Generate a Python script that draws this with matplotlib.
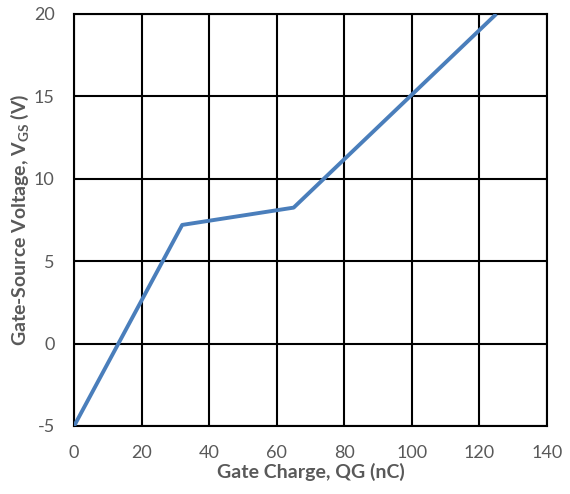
import matplotlib
matplotlib.use("Agg")
import matplotlib.pyplot as plt

# Gate charge curve
carga_qg = [0, 32, 65, 125]
tensao_vgs = [-5, 7.2, 8.25, 20]

x_ticks = [0, 20, 40, 60, 80, 100, 120, 140]
y_ticks = [-5, 0, 5, 10, 15, 20]

plt.rcParams['font.family'] = ['Lato', 'DejaVu Sans']
plt.rcParams['mathtext.fontset'] = 'custom'
plt.rcParams['mathtext.rm'] = 'Lato:bold'
plt.rcParams['mathtext.bf'] = 'Lato:bold'
plt.rcParams['axes.unicode_minus'] = False

cinza = '#595959'

fig = plt.figure(figsize=(5.7, 4.94), dpi=100)
ax = fig.add_axes([0.130, 0.1377, 0.8296, 0.834])

ax.plot(carga_qg, tensao_vgs, color='#4A7EBB', linewidth=2.8, solid_capstyle='butt', zorder=3)

ax.set_xlim(0, 140)
ax.set_ylim(-5, 20)
ax.set_xticks(x_ticks)
ax.set_yticks(y_ticks)
ax.grid(True, color='black', linewidth=1.5)
ax.set_axisbelow(True)
for s in ax.spines.values():
    s.set_color('black')
    s.set_linewidth(1.5)

ax.tick_params(length=0, labelsize=13, labelcolor=cinza)
ax.tick_params(axis='x', pad=14)
ax.tick_params(axis='y', pad=14)

ax.set_xlabel('Gate Charge, QG (nC)', fontsize=14, fontweight='bold', color=cinza, labelpad=1)
ax.set_ylabel(r'Gate-Source Voltage, V$_{\mathregular{GS}}$ (V)', fontsize=14, fontweight='bold',
              color=cinza, labelpad=2)

fig.savefig('out.png', dpi=100)
